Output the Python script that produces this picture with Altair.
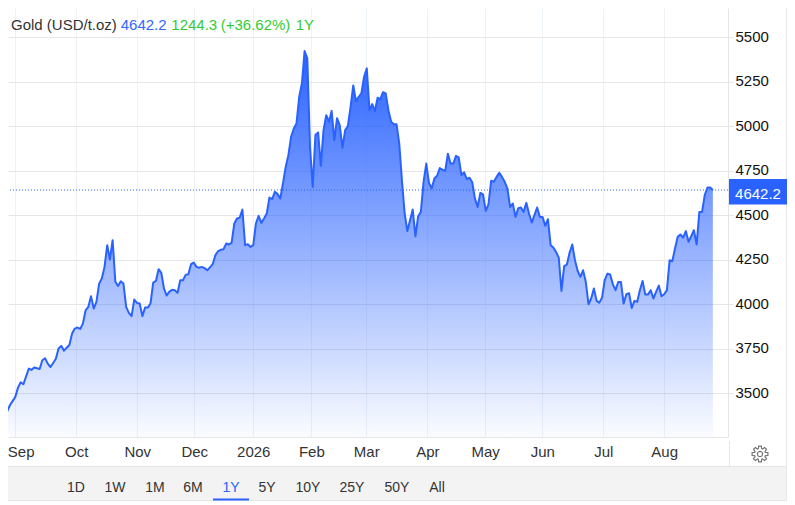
import math
import altair as alt
import pandas as pd

prices = [
    3398, 3432, 3455, 3479, 3531, 3561, 3550, 3594, 3638, 3631,
    3644, 3640, 3636, 3685, 3696, 3666, 3647, 3670, 3694, 3751,
    3766, 3739, 3755, 3771, 3835, 3863, 3869, 3861, 3891, 3966,
    3985, 4045, 3976, 4013, 4116, 4145, 4210, 4332, 4251, 4360,
    4126, 4103, 4129, 4116, 3985, 3951, 3933, 4026, 4007, 4004,
    3933, 3981, 3981, 4004, 4122, 4131, 4197, 4176, 4088, 4049,
    4071, 4081, 4079, 4064, 4135, 4135, 4165, 4169, 4225, 4234,
    4210, 4205, 4210, 4203, 4191, 4207, 4225, 4276, 4298, 4306,
    4309, 4341, 4336, 4345, 4454, 4482, 4487, 4532, 4332, 4337,
    4322, 4332, 4454, 4497, 4457, 4482, 4510, 4600, 4591, 4632,
    4619, 4594, 4679, 4772, 4838, 4941, 4988, 5016, 5166, 5241,
    5423, 5382, 4885, 4660, 4951, 4966, 4778, 4979, 5063, 5026,
    5087, 4922, 5046, 5007, 4879, 4979, 5001, 5110, 5230, 5142,
    5166, 5185, 5279, 5326, 5091, 5125, 5086, 5161, 5153, 5192,
    5185, 5091, 5026, 5012, 5012, 4904, 4697, 4510, 4412, 4472,
    4532, 4382, 4495, 4519, 4688, 4791, 4682, 4651, 4707, 4722,
    4765, 4757, 4750, 4846, 4791, 4791, 4834, 4825, 4726, 4742,
    4703, 4711, 4686, 4594, 4547, 4626, 4617, 4525, 4562, 4694,
    4688, 4716, 4739, 4716, 4688, 4651, 4547, 4566, 4491, 4540,
    4544, 4519, 4570, 4510, 4459, 4501, 4544, 4491, 4491, 4441,
    4478, 4332, 4319, 4294, 4262, 4075, 4214, 4223, 4289, 4336,
    4247, 4187, 4154, 4191, 4125, 4000, 4032, 4088, 4019, 4009,
    4036, 4135, 4172, 4167, 4113, 4079, 4125, 4125, 4004, 4056,
    4062, 3979, 4019, 4013, 4079, 4131, 4054, 4054, 4079, 4032,
    4069, 4105, 4045, 4056, 4079, 4247, 4242, 4313, 4379, 4392,
    4375, 4411, 4351, 4382, 4416, 4336, 4519, 4519, 4613, 4656,
    4656, 4642.2,
]
trading_days = list(range(len(prices)))
last_price = prices[-1]
axis_floor = 3253.6
axis_ceiling = 5665.3

month_ticks = [3.0, 25.55, 48.1, 69.2, 91.0, 112.5, 132.8, 155.4, 176.8, 197.9, 220.5, 243.0]
month_labels = ["Sep", "Oct", "Nov", "Dec", "2026", "Feb", "Mar", "Apr", "May", "Jun", "Jul", "Aug"]
price_ticks = [3500, 3750, 4000, 4250, 4500, 4750, 5000, 5250, 5500]
ranges = ["1D", "1W", "1M", "6M", "1Y", "5Y", "10Y", "25Y", "50Y", "All"]
range_x = [68, 107, 147, 185, 223, 259, 300, 344, 389, 429]

FONT = "Liberation Sans"
BLUE = "#2962ff"
GRID = "#e6e6e6"
VGRID = "#edf2f7"

df = pd.DataFrame({"day": trading_days, "price": prices, "floor": axis_floor})
xs = alt.Scale(domain=[0.3, 266.6], nice=False, zero=False)
ys = alt.Scale(domain=[axis_floor, axis_ceiling], nice=False, zero=False)

labels_js = "[" + ",".join(f"'{m}'" for m in month_labels) + "]"
ticks_js = "[" + ",".join(str(t) for t in month_ticks) + "]"

x_axis = alt.Axis(
    values=month_ticks, title=None, grid=True, gridColor=VGRID, gridWidth=1,
    ticks=False, domain=True, domainColor=GRID,
    labelExpr=f"{labels_js}[indexof({ticks_js}, datum.value)]",
    labelFont=FONT, labelFontSize=15, labelColor="#333333", labelPadding=7,
    labelFlush=8, labelFlushOffset=8, labelOverlap=False,
)
y_axis = alt.Axis(
    values=price_ticks, orient="right", title=None, grid=True, gridColor=GRID, gridWidth=1,
    ticks=True, tickSize=5, tickColor=GRID, domain=True, domainColor=GRID,
    labelFont=FONT, labelFontSize=15, labelColor="#111111", labelPadding=2,
    labelOffset=-1, labelOverlap=False, format="d",
)

fill = alt.Gradient(
    gradient="linear", x1=0, x2=0, y1=0, y2=1,
    stops=[
        alt.GradientStop(offset=0, color="rgba(41,98,255,1)"),
        alt.GradientStop(offset=1, color="rgba(41,98,255,0.02)"),
    ],
)

base = alt.Chart(df)
area = base.mark_area(color=fill, line=False).encode(
    x=alt.X("day:Q", scale=xs, axis=x_axis),
    y=alt.Y("price:Q", scale=ys, axis=y_axis, stack=None),
    y2=alt.Y2("floor:Q"),
)
line = base.mark_line(color=BLUE, strokeWidth=2, strokeJoin="round").encode(
    x=alt.X("day:Q", scale=xs), y=alt.Y("price:Q", scale=ys)
)
last_rule = alt.Chart(pd.DataFrame({"price": [last_price]})).mark_rule(
    color=BLUE, strokeWidth=1, strokeDash=[1, 2]
).encode(y=alt.Y("price:Q", scale=ys))


def txt(s, x, y, color, size=14, align="left"):
    return alt.Chart(pd.DataFrame({"t": [s]})).mark_text(
        font=FONT, fontSize=size, color=color, align=align, baseline="alphabetic"
    ).encode(x=alt.value(x), y=alt.value(y), text="t:N")


def box(x, x2, y, y2, color):
    return alt.Chart(pd.DataFrame({"a": [0]})).mark_rect(color=color).encode(
        x=alt.value(x), x2=alt.value(x2), y=alt.value(y), y2=alt.value(y2)
    )


def rule(x, x2, y, y2, color):
    return alt.Chart(pd.DataFrame({"a": [0]})).mark_rule(color=color, strokeWidth=1).encode(
        x=alt.value(x), x2=alt.value(x2), y=alt.value(y), y2=alt.value(y2)
    )


header = [
    txt("Gold (USD/t.oz)", 3, 21.5, "#333333", size=15),
    txt("4642.2", 112.7, 21.5, "#3366ff", size=15),
    txt("1244.3", 163.3, 21.5, "#33cc33", size=15),
    txt("(+36.62%)", 212.7, 21.5, "#33cc33", size=15),
    txt("1Y", 287.7, 21.5, "#33cc33", size=15),
]

price_tag = [box(721, 779, 171, 196.5, BLUE), txt("4642.2", 750, 190.5, "#ffffff", size=15, align="center")]

bar = [
    box(0, 779, 458.5, 493, "#f3f3f3"),
    rule(0, 779, 458.5, 458.5, GRID),
    rule(0, 779, 492.5, 492.5, GRID),
    rule(778.5, 778.5, 0, 493, GRID),
    rule(721.5, 721.5, 433, 458.5, GRID),
    box(205, 241, 490.5, 492.5, BLUE),
]
for name, px in zip(ranges, range_x):
    bar.append(txt(name, px, 483.5, BLUE if name == "1Y" else "#333333", align="center"))

# settings gear icon
pts = []
for k in range(8):
    a = k * math.pi / 4
    for da, r in [(-0.30, 0.70), (-0.17, 1.0), (0.17, 1.0), (0.30, 0.70)]:
        pts.append((r * math.cos(a + da), r * math.sin(a + da)))
gear_path = "M" + " L".join(f"{p[0]:.3f},{p[1]:.3f}" for p in pts) + " Z"
gear = alt.Chart(pd.DataFrame({"a": [0]})).mark_point(
    shape=gear_path, size=256, filled=False, stroke="#777777", strokeWidth=1.2, opacity=1
).encode(x=alt.value(752), y=alt.value(446))
gear_hole = alt.Chart(pd.DataFrame({"a": [0]})).mark_point(
    shape="circle", size=28, filled=False, stroke="#777777", strokeWidth=1.2, opacity=1
).encode(x=alt.value(752), y=alt.value(446))

chart = alt.layer(
    *bar, area, line, last_rule, *header, *price_tag, gear, gear_hole
).properties(
    width=720, height=429,
    padding={"left": 0, "top": 0, "right": 59, "bottom": 64},
    autosize=alt.AutoSizeParams(type="none"),
    background="#ffffff",
).configure_view(stroke=None)

chart.save("out.html", embed_options={"renderer": "svg", "actions": False})
